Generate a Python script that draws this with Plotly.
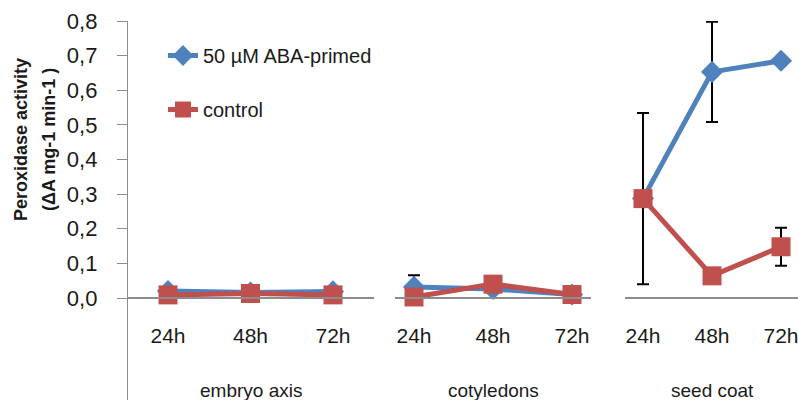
import plotly.graph_objects as go

# ---- data ----
time_labels = ["24h", "48h", "72h"]
tissues = ["embryo axis", "cotyledons", "seed coat"]

aba_embryo = [0.020, 0.016, 0.019]
aba_cotyledons = [0.032, 0.026, 0.010]
aba_seedcoat = [0.287, 0.653, 0.685]

control_embryo = [0.009, 0.013, 0.009]
control_cotyledons = [0.003, 0.040, 0.010]
control_seedcoat = [0.287, 0.064, 0.148]

aba_err_embryo = [None, None, None]
aba_err_cotyledons = [0.034, None, None]
aba_err_seedcoat = [None, 0.145, None]

control_err_embryo = [None, None, None]
control_err_cotyledons = [None, None, None]
control_err_seedcoat = [0.247, None, 0.055]

y_ticks = [0.0, 0.1, 0.2, 0.3, 0.4, 0.5, 0.6, 0.7, 0.8]

# ---- styling ----
BLUE = "#4F81BD"
RED = "#C0504D"
FONT = "Liberation Sans"
TXT = "#1a1a1a"
GRAY = "#8c8c8c"

# body margin is removed by post_script, so page pixels == figure pixels
OFF = 0
W, H = 798, 400
ML, MR, MT, MB = 128, 0, 21, 0
PW = W - ML - MR
PH = H - MT - MB
Y_RANGE = [-0.2946, 0.8]
zero_pos = -Y_RANGE[0] / (Y_RANGE[1] - Y_RANGE[0])

def px2paper(px):          # page x pixel -> paper x
    return (px - OFF - ML) / PW

def py2paper(py):          # page y pixel -> paper y
    return 1 - (py - OFF - MT) / PH

panels = [
    dict(xa="x", dom=[px2paper(128), px2paper(374)], rng=[-0.485, 2.497]),
    dict(xa="x2", dom=[px2paper(395), px2paper(591)], rng=[-0.2405, 2.2405]),
    dict(xa="x3", dom=[px2paper(625), 1.0], rng=[-0.261, 2.246]),
]

aba_sets = [aba_embryo, aba_cotyledons, aba_seedcoat]
ctl_sets = [control_embryo, control_cotyledons, control_seedcoat]
aba_errs = [aba_err_embryo, aba_err_cotyledons, aba_err_seedcoat]
ctl_errs = [control_err_embryo, control_err_cotyledons, control_err_seedcoat]

fig = go.Figure()
xs = [0, 1, 2]
for i, p in enumerate(panels):
    fig.add_trace(go.Scatter(
        x=xs, y=aba_sets[i], xaxis=p["xa"], yaxis="y",
        mode="lines+markers", name="50 µM ABA-primed",
        legendgroup="aba", showlegend=(i == 0),
        line=dict(color=BLUE, width=5),
        marker=dict(symbol="diamond", size=17, color=BLUE),
        error_y=dict(type="data", array=aba_errs[i], visible=True,
                     color="black", thickness=2, width=6),
        cliponaxis=False,
    ))
for i, p in enumerate(panels):
    fig.add_trace(go.Scatter(
        x=xs, y=ctl_sets[i], xaxis=p["xa"], yaxis="y",
        mode="lines+markers", name="control",
        legendgroup="ctl", showlegend=(i == 0),
        line=dict(color=RED, width=5),
        marker=dict(symbol="square", size=19, color=RED),
        error_y=dict(type="data", array=ctl_errs[i], visible=True,
                     color="black", thickness=2, width=6),
        cliponaxis=False,
    ))

layout = dict(
    width=W, height=H,
    margin=dict(l=ML, r=MR, t=MT, b=MB, pad=0),
    paper_bgcolor="white", plot_bgcolor="white",
    separators=",.",
    font=dict(family=FONT, color=TXT, size=20),
    showlegend=True,
    legend=dict(
        x=px2paper(163), xanchor="left", y=py2paper(36), yanchor="top",
        font=dict(family=FONT, size=20, color=TXT),
        bgcolor="rgba(0,0,0,0)", traceorder="grouped", tracegroupgap=25,
        itemwidth=30,
    ),
    yaxis=dict(
        range=Y_RANGE, domain=[0, 1], anchor="x",
        tickvals=y_ticks, tickformat=".1f",
        showgrid=False, zeroline=False,
        showline=True, linecolor=GRAY, linewidth=1.3,
        ticks="outside", ticklen=10, tickcolor=GRAY, tickwidth=1.3,
        tickfont=dict(family=FONT, size=22, color=TXT),
        ticklabelstandoff=15,
    ),
)
for i, p in enumerate(panels):
    key = "xaxis" if i == 0 else f"xaxis{i+1}"
    layout[key] = dict(
        domain=p["dom"], range=p["rng"], anchor="free", position=zero_pos,
        tickvals=xs, ticktext=time_labels,
        showgrid=False, zeroline=False,
        showline=True, linecolor=GRAY, linewidth=1.5,
        ticks="", tickfont=dict(family=FONT, size=21, color=TXT),
        ticklabelstandoff=19, ticklabeloverflow="allow",
    )
fig.update_layout(**layout)

# tissue group labels
ann = []
for i, p in enumerate(panels):
    ann.append(dict(
        x=1, xref=p["xa"], y=py2paper(390), yref="paper",
        text=tissues[i], showarrow=False, xanchor="center", yanchor="middle",
        font=dict(family=FONT, size=19, color=TXT),
    ))
# y-axis title (two lines)
ann.append(dict(x=px2paper(21), xref="paper", y=py2paper(139), yref="paper",
                text="<b>Peroxidase activity</b>", textangle=-90, showarrow=False,
                xanchor="center", yanchor="middle",
                font=dict(family=FONT, size=18, color=TXT)))
ann.append(dict(x=px2paper(49), xref="paper", y=py2paper(140), yref="paper",
                text="<b>(ΔA mg-1 min-1 )</b>", textangle=-90, showarrow=False,
                xanchor="center", yanchor="middle",
                font=dict(family=FONT, size=18, color=TXT)))
fig.update_layout(annotations=ann)

fig.write_html(
    "out.html",
    config={"displayModeBar": False},
    post_script="document.body.style.margin='0';document.body.style.overflow='hidden';",
)
